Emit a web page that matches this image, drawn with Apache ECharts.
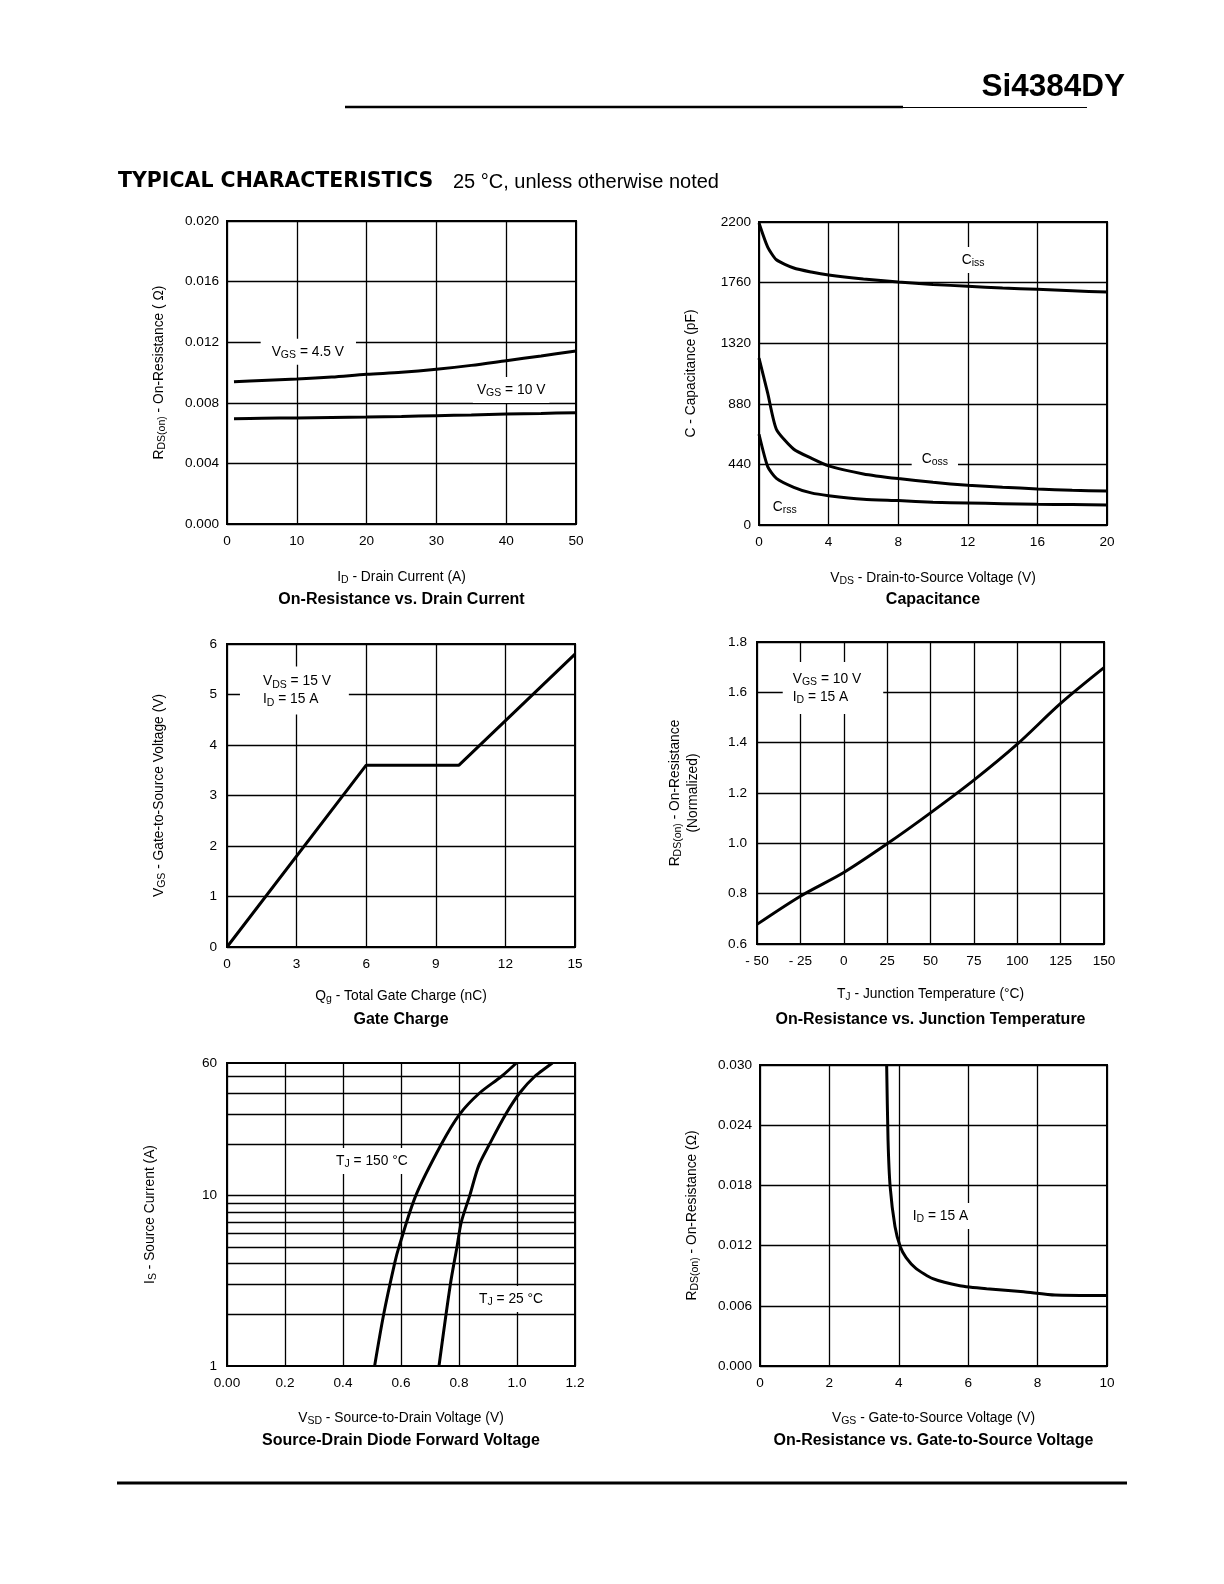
<!DOCTYPE html>
<html>
<head>
<meta charset="utf-8">
<script src="https://cdn.jsdelivr.net/npm/echarts@6/dist/echarts.min.js"></script>
<style>
  html, body { margin: 0; padding: 0; background: #fff; }
  #page { width: 1224px; height: 1584px; }
</style>
</head>
<body>
<div id="page"></div>
<script>
// --- data ---
// On-Resistance vs. Drain Current
const idCurrent = [1, 5, 10, 15, 20, 25, 30, 35, 40, 45, 50];
const rdsVgs45 = [0.00939, 0.00948, 0.00957, 0.0097, 0.00988, 0.01001, 0.01021, 0.01047, 0.01078, 0.01109, 0.01142];
const rdsVgs10 = [0.00695, 0.00698, 0.0070, 0.00703, 0.00706, 0.0071, 0.00715, 0.0072, 0.00726, 0.0073, 0.00735];

// Capacitance
const vds = [0, 0.5, 1, 2, 3, 4, 6, 8, 10, 12, 14, 16, 18, 20];
const ciss = [2193, 2018, 1926, 1866, 1837, 1815, 1786, 1764, 1747, 1733, 1720, 1711, 1701, 1691];
const coss = [1212, 957, 695, 550, 485, 429, 371, 337, 310, 288, 274, 262, 252, 247];
const crss = [659, 424, 339, 274, 233, 213, 187, 177, 165, 160, 155, 150, 148, 145];

// Gate Charge
const qg = [0, 6, 10, 15];
const vgsCharge = [0, 3.6, 3.6, 5.8];

// On-Resistance vs. Junction Temperature
const tj = [-50, -25, 0, 25, 50, 75, 100, 125, 150];
const rdsNorm = [0.678, 0.79, 0.884, 0.998, 1.121, 1.251, 1.394, 1.556, 1.698];

// Source-Drain Diode Forward Voltage
const vsd150 = [0.509, 0.540, 0.578, 0.593, 0.651, 0.739, 0.802, 0.871, 0.946, 0.998];
const is150 = [1, 2, 4, 5, 10, 20, 30, 40, 50, 60];
const vsd25 = [0.731, 0.770, 0.793, 0.808, 0.837, 0.868, 0.905, 0.961, 1.009, 1.061, 1.122];
const is25 = [1, 3, 5, 7, 10, 15, 20, 30, 40, 50, 60];
const isMinorLines = [2, 3, 4, 5, 6, 7, 8, 9, 10, 20, 30, 40, 50];
const isTickLabels = [1, 10, 60];

// On-Resistance vs. Gate-to-Source Voltage
const vgsSweep = [3.65, 3.69, 3.75, 3.89, 4.04, 4.21, 4.50, 4.98, 5.76, 6.53, 7.6, 8.5, 10];
const rdsVgs = [0.030, 0.0225, 0.0179, 0.0139, 0.0119, 0.0108, 0.0097, 0.0087, 0.0080, 0.0077, 0.0074, 0.00708, 0.00703];

// --- styling helpers ---
const F = '"Liberation Sans", Arial, Helvetica, sans-serif';
const rich = {
  n: { fontSize: 13.8, fontFamily: F, color: '#000', lineHeight: 18 },
  s: { fontSize: 10.5, fontFamily: F, color: '#000', lineHeight: 10, verticalAlign: 'bottom' }
};
const zip = (xs, ys) => xs.map((x, i) => [x, ys[i]]);

const grids = [
  { left: 227, top: 221, width: 349, height: 303 },
  { left: 759, top: 222, width: 348, height: 303 },
  { left: 227, top: 644, width: 348, height: 303 },
  { left: 757, top: 642, width: 347, height: 302 },
  { left: 227, top: 1063, width: 348, height: 303 },
  { left: 760, top: 1065, width: 347, height: 301 }
].map(g => Object.assign({ show: true, borderColor: '#000', borderWidth: 2, backgroundColor: 'transparent' }, g));

function axis(gridIndex, o) {
  const base = {
    gridIndex: gridIndex,
    type: 'value',
    axisLine: { show: false },
    axisTick: { show: false },
    splitLine: { show: true, lineStyle: { color: '#000', width: 1.3 } },
    axisLabel: { color: '#000', fontSize: 13.6, fontFamily: F, margin: 10 },
    nameLocation: 'middle',
    nameTextStyle: { color: '#000', fontSize: 13.8, fontFamily: F, rich: rich }
  };
  const out = Object.assign({}, base, o);
  if (o.axisLabel) out.axisLabel = Object.assign({}, base.axisLabel, o.axisLabel);
  return out;
}

function line(xi, yi, data, extra) {
  return Object.assign({
    type: 'line', xAxisIndex: xi, yAxisIndex: yi, data: data,
    showSymbol: false, silent: true,
    lineStyle: { color: '#000', width: 3 }
  }, extra || {});
}

const xAxes = [
  axis(0, { min: 0, max: 50, interval: 10, name: '{n|I}{s|D}{n| - Drain Current (A)}', nameGap: 44 }),
  axis(1, { min: 0, max: 20, interval: 4, name: '{n|V}{s|DS}{n| - Drain-to-Source Voltage (V)}', nameGap: 44 }),
  axis(2, { min: 0, max: 15, interval: 3, name: '{n|Q}{s|g}{n| - Total Gate Charge (nC)}', nameGap: 40 }),
  axis(3, { min: -50, max: 150, interval: 25, name: '{n|T}{s|J}{n| - Junction Temperature (°C)}', nameGap: 41,
    axisLabel: { formatter: v => v < 0 ? '- ' + Math.abs(v) : String(v) } }),
  axis(4, { min: 0, max: 1.2, interval: 0.2, name: '{n|V}{s|SD}{n| - Source-to-Drain Voltage (V)}', nameGap: 43,
    axisLabel: { formatter: v => v === 0 ? '0.00' : v.toFixed(1) } }),
  axis(5, { min: 0, max: 10, interval: 2, name: '{n|V}{s|GS}{n| - Gate-to-Source Voltage (V)}', nameGap: 43 })
];

const yAxes = [
  axis(0, { min: 0, max: 0.02, interval: 0.004, name: '{n|R}{s|DS(on)}{n| - On-Resistance ( Ω)}', nameGap: 59,
    axisLabel: { margin: 8, formatter: v => v.toFixed(3) } }),
  axis(1, { min: 0, max: 2200, interval: 440, name: '{n|C - Capacitance (pF)}', nameGap: 59,
    axisLabel: { margin: 8, formatter: v => String(v) } }),
  axis(2, { min: 0, max: 6, interval: 1, name: '{n|V}{s|GS}{n| - Gate-to-Source Voltage (V)}', nameGap: 59, axisLabel: { margin: 10 } }),
  axis(3, { min: 0.6, max: 1.8, interval: 0.2, name: '{n|R}{s|DS(on)}{n| - On-Resistance}\n{n|(Normalized)}', nameGap: 55,
    axisLabel: { margin: 10, formatter: v => v.toFixed(1) } }),
  axis(4, { type: 'log', logBase: 10, min: 1, max: 60, name: '{n|I}{s|S}{n| - Source Current (A)}', nameGap: 68,
    splitLine: { show: false },
    axisLabel: { margin: 10, customValues: isTickLabels, formatter: v => String(Math.round(v)) } }),
  axis(5, { min: 0, max: 0.03, interval: 0.006, name: '{n|R}{s|DS(on)}{n| - On-Resistance (Ω)}', nameGap: 59,
    axisLabel: { margin: 8, formatter: v => v.toFixed(3) } })
];

const series = [
  line(0, 0, zip(idCurrent, rdsVgs45), { smooth: 0.3 }),
  line(0, 0, zip(idCurrent, rdsVgs10), { smooth: 0.3 }),
  line(1, 1, zip(vds, ciss), { smooth: 0.2 }),
  line(1, 1, zip(vds, coss), { smooth: 0.2 }),
  line(1, 1, zip(vds, crss), { smooth: 0.2 }),
  line(2, 2, zip(qg, vgsCharge)),
  line(3, 3, zip(tj, rdsNorm), { smooth: 0.3 }),
  line(4, 4, zip(vsd150, is150), {
    smooth: 0.3,
    markLine: {
      silent: true, symbol: ['none', 'none'], animation: false,
      label: { show: false },
      lineStyle: { color: '#000', width: 1.3, type: 'solid' },
      data: isMinorLines.map(v => ({ yAxis: v }))
    }
  }),
  line(4, 4, zip(vsd25, is25), { smooth: 0.3 }),
  line(5, 5, zip(vgsSweep, rdsVgs), { smooth: 0.2 })
];

// chart titles, centred under each plot
const titleTexts = [
  'On-Resistance vs. Drain Current', 'Capacitance',
  'Gate Charge', 'On-Resistance vs. Junction Temperature',
  'Source-Drain Diode Forward Voltage', 'On-Resistance vs. Gate-to-Source Voltage'
];
const titleY = [600, 600, 1020, 1020, 1441, 1441];

const staticGraphics = [
  { type: 'text', x: 1125, y: 87, style: { text: 'Si4384DY', fontFamily: F, fontWeight: 'bold', fontSize: 31.5, fill: '#000', align: 'right', verticalAlign: 'middle' } },
  { type: 'line', shape: { x1: 345, y1: 107, x2: 903, y2: 107 }, style: { stroke: '#000', lineWidth: 2.5 } },
  { type: 'line', shape: { x1: 903, y1: 107.5, x2: 1087, y2: 107.5 }, style: { stroke: '#000', lineWidth: 1 } },
  { type: 'text', x: 118, y: 182, style: { text: 'TYPICAL CHARACTERISTICS', fontFamily: '"DejaVu Sans", sans-serif', fontWeight: 'bold', fontSize: 20.5, fill: '#000', align: 'left', verticalAlign: 'middle' } },
  { type: 'text', x: 453, y: 182, style: { text: '25 °C, unless otherwise noted', fontFamily: F, fontSize: 20, fill: '#000', align: 'left', verticalAlign: 'middle' } },
  { type: 'line', shape: { x1: 117, y1: 1483, x2: 1127, y2: 1483 }, style: { stroke: '#000', lineWidth: 3 } }
].concat(titleTexts.map((t, i) => ({
  type: 'text',
  x: grids[i].left + grids[i].width / 2,
  y: titleY[i],
  style: { text: t, fontFamily: F, fontWeight: 'bold', fontSize: 16, fill: '#000', align: 'center', verticalAlign: 'middle' }
})));

// curve labels: grid, data-space anchor (left edge, vertical centre), text, padding [t, r, b, l]
const annotations = [
  { grid: 0, at: [6.4, 0.01137], text: '{n|V}{s|GS}{n| = 4.5 V}', pad: [4, 12, 4, 11] },
  { grid: 0, at: [35.8, 0.00885], text: '{n|V}{s|GS}{n| = 10 V}', pad: [4, 4, 4, 4] },
  { grid: 1, at: [11.65, 1924], text: '{n|C}{s|iss}', pad: [4, 3, 4, 3] },
  { grid: 1, at: [9.35, 479], text: '{n|C}{s|oss}', pad: [4, 10, 4, 10] },
  { grid: 1, at: [0.79, 131], text: '{n|C}{s|rss}', pad: [2, 2, 2, 2] },
  { grid: 2, at: [1.55, 5.08], text: '{n|V}{s|DS}{n| = 15 V}\n{n|I}{s|D}{n| = 15 A}', pad: [6, 18, 6, 23] },
  { grid: 3, at: [-29.4, 1.617], text: '{n|V}{s|GS}{n| = 10 V}\n{n|I}{s|D}{n| = 15 A}', pad: [8, 22, 8, 10] },
  { grid: 4, at: [0.376, 15.96], text: '{n|T}{s|J}{n| = 150 °C}', pad: [4, 3, 4, 3] },
  { grid: 4, at: [0.869, 2.47], text: '{n|T}{s|J}{n| = 25 °C}', pad: [4, 3, 4, 3] },
  { grid: 5, at: [4.40, 0.01495], text: '{n|I}{s|D}{n| = 15 A}', pad: [4, 3, 4, 3] }
];

const chart = echarts.init(document.getElementById('page'), null, { renderer: 'canvas' });
chart.setOption({
  animation: false,
  backgroundColor: '#fff',
  textStyle: { fontFamily: F, color: '#000' },
  grid: grids,
  xAxis: xAxes,
  yAxis: yAxes,
  series: series,
  graphic: staticGraphics
});

const annotGraphics = annotations.map(a => {
  const p = chart.convertToPixel({ gridIndex: a.grid }, a.at);
  const multi = a.text.indexOf('\n') >= 0;
  return {
    type: 'text', z: 50,
    x: p[0] - a.pad[3],
    y: p[1],
    style: {
      text: a.text, rich: rich,
      fontFamily: F, fontSize: 13.8, fill: '#000',
      backgroundColor: '#fff', padding: a.pad,
      lineHeight: multi ? 16 : 18,
      align: 'left', verticalAlign: 'middle'
    }
  };
});
chart.setOption({ graphic: staticGraphics.concat(annotGraphics) });
</script>
</body>
</html>
